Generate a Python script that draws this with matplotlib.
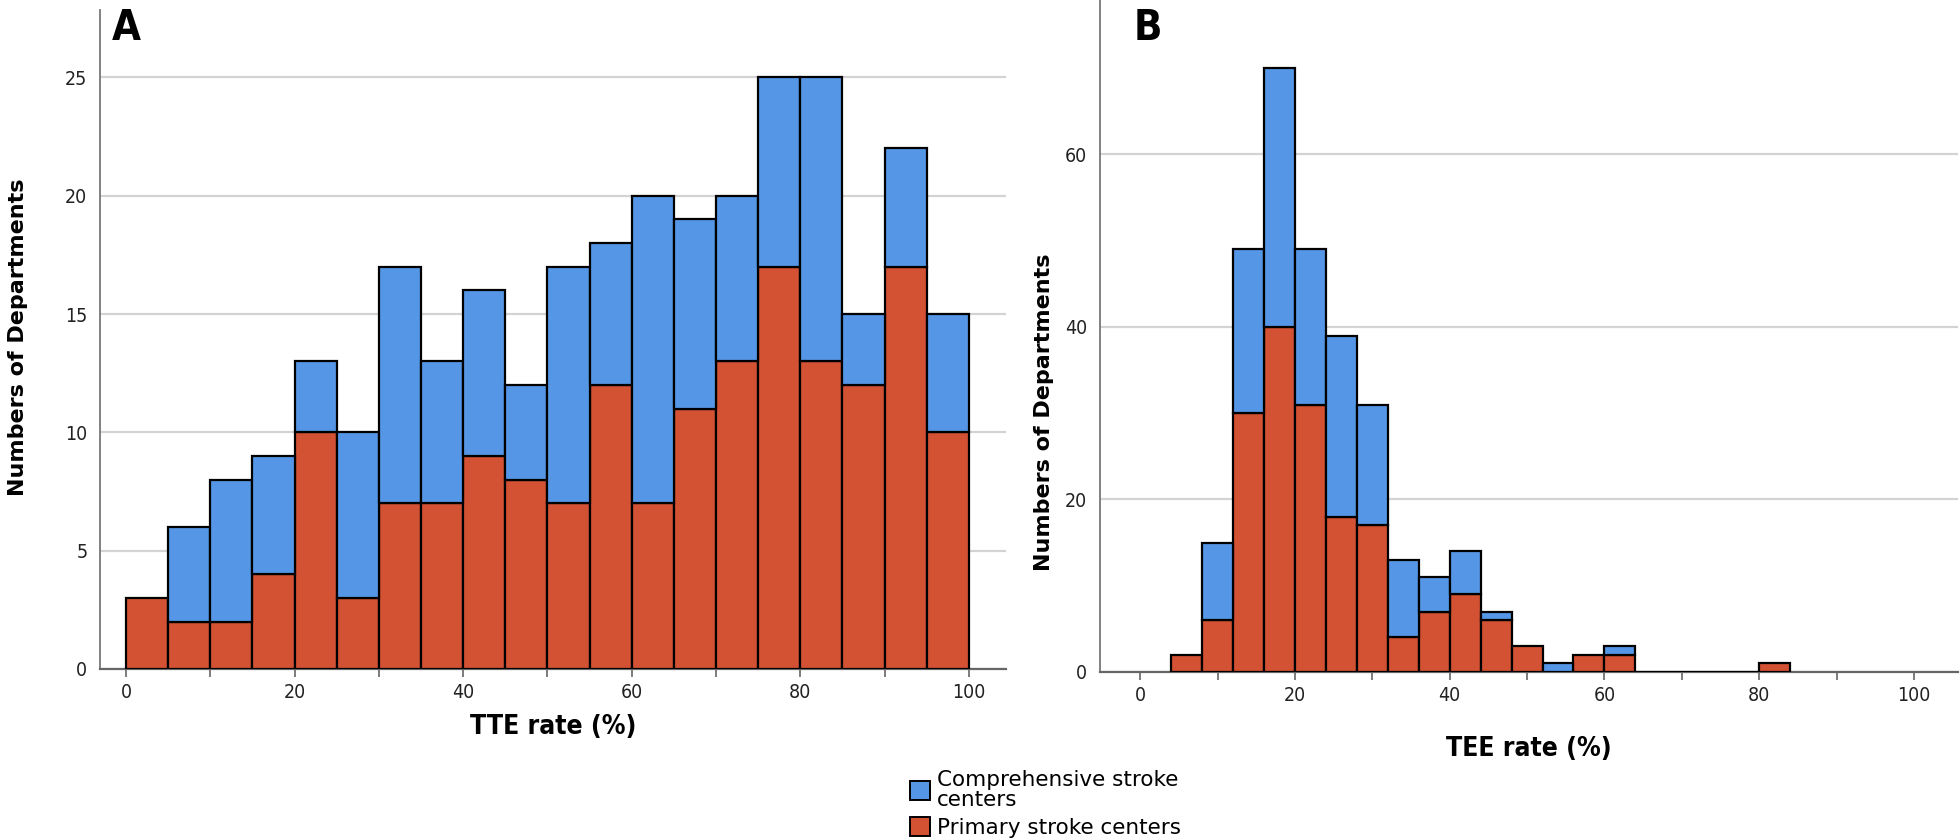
import numpy as np
import matplotlib
matplotlib.use("Agg")
import matplotlib.pyplot as plt
from matplotlib import font_manager
from matplotlib.patches import Patch
from matplotlib.ticker import MultipleLocator, FuncFormatter

# Panel A: TTE rate, bins of 5 %
tte_edges = np.arange(0, 105, 5)
tte_primary = [3, 2, 2, 4, 10, 3, 7, 7, 9, 8, 7, 12, 7, 11, 13, 17, 13, 12, 17, 10]
tte_comprehensive = [0, 4, 6, 5, 3, 7, 10, 6, 7, 4, 10, 6, 13, 8, 7, 8, 12, 3, 5, 5]

# Panel B: TEE rate, bins of 4 %
tee_edges = np.arange(4, 88, 4)
tee_primary = [2, 6, 30, 40, 31, 18, 17, 4, 7, 9, 6, 3, 0, 2, 2, 0, 0, 0, 0, 1]
tee_comprehensive = [0, 9, 19, 30, 18, 21, 14, 9, 4, 5, 1, 0, 1, 0, 1, 0, 0, 0, 0, 0]

legend_labels = ["Comprehensive stroke\ncenters", "Primary stroke centers"]

BLUE = "#5597e6"
RED = "#d35233"
GRID = "#d3d3d3"

# condensed face for ticks / axis titles, if one is installed
names = {f.name for f in font_manager.fontManager.ttflist}
if "Liberation Sans Narrow" in names:
    NARROW = dict(family="Liberation Sans Narrow")
else:
    NARROW = dict(family="DejaVu Sans", stretch="condensed")


def draw_panel(ax, edges, primary, comp, xlim, ylim, ystep, xlabel,
               ylabel_pos, xlabel_y):
    edges = np.asarray(edges)
    widths = np.diff(edges)
    primary = np.asarray(primary)
    comp = np.asarray(comp)
    ax.bar(edges[:-1], primary, width=widths, align="edge", color=RED,
           edgecolor="black", linewidth=1.6, zorder=3)
    has = comp > 0
    ax.bar(edges[:-1][has], comp[has], bottom=primary[has], width=widths[has],
           align="edge", color=BLUE, edgecolor="black", linewidth=1.6, zorder=3)

    ax.set_xlim(*xlim)
    ax.set_ylim(*ylim)
    ax.yaxis.set_major_locator(MultipleLocator(ystep))
    ax.xaxis.set_major_locator(MultipleLocator(10))
    ax.xaxis.set_major_formatter(FuncFormatter(lambda v, p: f"{v:.0f}" if v % 20 == 0 else ""))
    ax.grid(axis="y", color=GRID, linewidth=1.6, zorder=0)
    ax.set_axisbelow(True)

    for s in ("top", "right"):
        ax.spines[s].set_visible(False)
    ax.spines["left"].set_color("#777777")
    ax.spines["bottom"].set_color("#666666")
    ax.spines["left"].set_linewidth(1.3)
    ax.spines["bottom"].set_linewidth(1.6)

    ax.tick_params(axis="y", length=0, pad=9, labelsize=14, labelcolor="#222222")
    ax.tick_params(axis="x", length=6, width=1.2, color="#666666", pad=4,
                   labelsize=14, labelcolor="#222222")
    for lab in ax.get_xticklabels() + ax.get_yticklabels():
        lab.set(**NARROW)

    ax.set_ylabel("Numbers of Departments", fontsize=16, fontweight="bold",
                  family="DejaVu Sans")
    ax.yaxis.set_label_coords(*ylabel_pos)
    ax.set_xlabel(xlabel, fontsize=19, fontweight="bold", **NARROW)
    ax.xaxis.set_label_coords(0.5, xlabel_y)


fig = plt.figure(figsize=(19.6, 8.38), dpi=100)
ax_a = fig.add_axes([0.051, 0.2017, 0.4622, 0.7864])
ax_b = fig.add_axes([0.5612, 0.1981, 0.4378, 0.8019])

draw_panel(ax_a, tte_edges, tte_primary, tte_comprehensive, (-3.1, 104.4), (0, 27.85), 5,
           "TTE rate (%)", (-0.0795, 0.504), -0.068)
draw_panel(ax_b, tee_edges, tee_primary, tee_comprehensive, (-5.2, 105.7), (0, 77.9), 20,
           "TEE rate (%)", (-0.053, 0.387), -0.095)

fig.text(0.0571, 0.992, "A", fontsize=30, fontweight="bold", va="top", ha="left", **NARROW)
fig.text(0.5786, 0.992, "B", fontsize=30, fontweight="bold", va="top", ha="left", **NARROW)

handles = [Patch(facecolor=BLUE, edgecolor="black", linewidth=1.4),
           Patch(facecolor=RED, edgecolor="black", linewidth=1.4)]
leg = fig.legend(handles, legend_labels, loc="upper left", bbox_to_anchor=(0.4643, 0.081),
                 frameon=False, fontsize=15.5, handlelength=0.95, handleheight=1.0,
                 handletextpad=0.3, labelspacing=0.3, borderpad=0, borderaxespad=0)
for t in leg.get_texts():
    t.set_linespacing(1.0)

fig.savefig("out.png", dpi=100)
